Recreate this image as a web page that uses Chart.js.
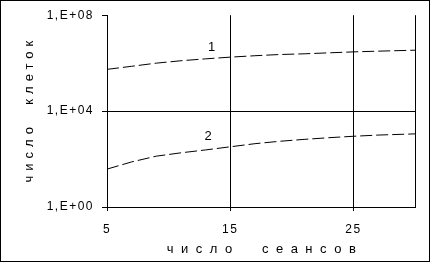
<!DOCTYPE html>
<html>
<head>
<meta charset="utf-8">
<script src="https://cdn.jsdelivr.net/npm/chart.js@4"></script>
<style>
  body { margin: 0; background: #fff; }
  canvas { display: block; }
</style>
</head>
<body>
<canvas id="chart" width="432" height="264"></canvas>
<script>
// число сеансов
var sessions = [5, 7, 9, 11, 13, 15, 17, 19, 21, 23, 25, 27, 30];
// число клеток, кривая 1 и кривая 2
var cells1 = [5.5e5, 7.4e5, 1.0e6, 1.26e6, 1.51e6, 1.78e6, 2.04e6, 2.29e6, 2.45e6, 2.69e6, 2.95e6, 3.16e6, 3.47e6];
var cells2 = [38, 76, 132, 182, 240, 324, 437, 550, 661, 776, 891, 1000, 1122];

var yTicks = [1, 1e4, 1e8];
var yTickLabels = ['1,E+00', '1,E+04', '1,E+08'];
var xTicks = [5, 15, 25, 30];
var xTickLabels = ['5', '15', '25', ''];

var curveNames = ['1', '2'];
var curveNameX = [13.5, 13.2];
var curveNameY = [4.6e6, 910];

var xTitle = 'число  сеансов';
var yTitle = 'число  клеток';

function points(ys) {
    return sessions.map(function (s, i) { return { x: s, y: ys[i] }; });
}

const extras = {
    id: 'extras',
    beforeDraw(chart) {
        chart.ctx.letterSpacing = '1.5px';
    },
    afterDraw(chart) {
        const c = chart.ctx;
        const xs = chart.scales.x, ys = chart.scales.y;
        c.save();
        c.fillStyle = '#000';
        c.strokeStyle = '#000';
        c.letterSpacing = '0px';
        c.textAlign = 'center';
        c.textBaseline = 'middle';
        c.font = '13px "Liberation Sans"';
        curveNames.forEach(function (n, i) {
            c.fillText(n, xs.getPixelForValue(curveNameX[i]), ys.getPixelForValue(curveNameY[i]));
        });
        // axis titles, spaced out
        c.letterSpacing = '7.5px';
        c.fillText(xTitle, (chart.chartArea.left + chart.chartArea.right) / 2 + 4, 249);
        c.save();
        c.translate(29, (chart.chartArea.top + chart.chartArea.bottom) / 2);
        c.rotate(-Math.PI / 2);
        c.letterSpacing = '5px';
        c.fillText(yTitle, 2, 0);
        c.restore();
        // outer frame
        c.lineWidth = 1;
        c.strokeRect(0.5, 0.5, 429, 261);
        c.restore();
    }
};

const ctx = document.getElementById('chart').getContext('2d');
const cellsChart = new Chart(ctx, {
    type: 'line',
    data: {
        datasets: [{
            label: curveNames[0],
            data: points(cells1),
            borderColor: '#000',
            borderWidth: 1,
            borderDash: [12, 4],
            pointRadius: 0,
            tension: 0,
            fill: false
        }, {
            label: curveNames[1],
            data: points(cells2),
            borderColor: '#000',
            borderWidth: 1,
            borderDash: [12, 4],
            pointRadius: 0,
            tension: 0,
            fill: false
        }]
    },
    options: {
        responsive: false,
        devicePixelRatio: 1,
        animation: false,
        layout: { padding: { left: 0, top: 15, right: 17, bottom: 0 } },
        plugins: {
            legend: { display: false },
            tooltip: { enabled: false }
        },
        scales: {
            x: {
                type: 'linear',
                min: 5,
                max: 30,
                afterBuildTicks: function (s) { s.ticks = xTicks.map(function (v) { return { value: v }; }); },
                afterFit: function (s) { s.height = 57; },
                ticks: {
                    color: '#000',
                    padding: 11,
                    maxRotation: 0,
                    autoSkip: false,
                    font: { family: 'Liberation Sans', size: 12 },
                    callback: function (v) { return xTickLabels[xTicks.indexOf(v)]; }
                },
                grid: {
                    color: '#000',
                    lineWidth: 1,
                    tickLength: 4,
                    tickColor: function (c) { return c.tick && c.tick.value === 30 ? 'rgba(0,0,0,0)' : '#000'; }
                },
                border: { color: '#000', width: 1 }
            },
            y: {
                type: 'logarithmic',
                min: 1,
                max: 1e8,
                afterBuildTicks: function (s) { s.ticks = yTicks.map(function (v) { return { value: v }; }); },
                afterFit: function (s) { s.width = 107; },
                ticks: {
                    color: '#000',
                    padding: 8,
                    autoSkip: false,
                    font: { family: 'Liberation Sans', size: 12 },
                    callback: function (v) { return yTickLabels[yTicks.indexOf(v)]; }
                },
                grid: {
                    color: function (c) { return c.tick && c.tick.value === 1e8 ? 'rgba(0,0,0,0)' : '#000'; },
                    lineWidth: 1,
                    tickLength: 5,
                    tickColor: '#000'
                },
                border: { color: '#000', width: 1 }
            }
        }
    },
    plugins: [extras]
});
</script>
</body>
</html>
